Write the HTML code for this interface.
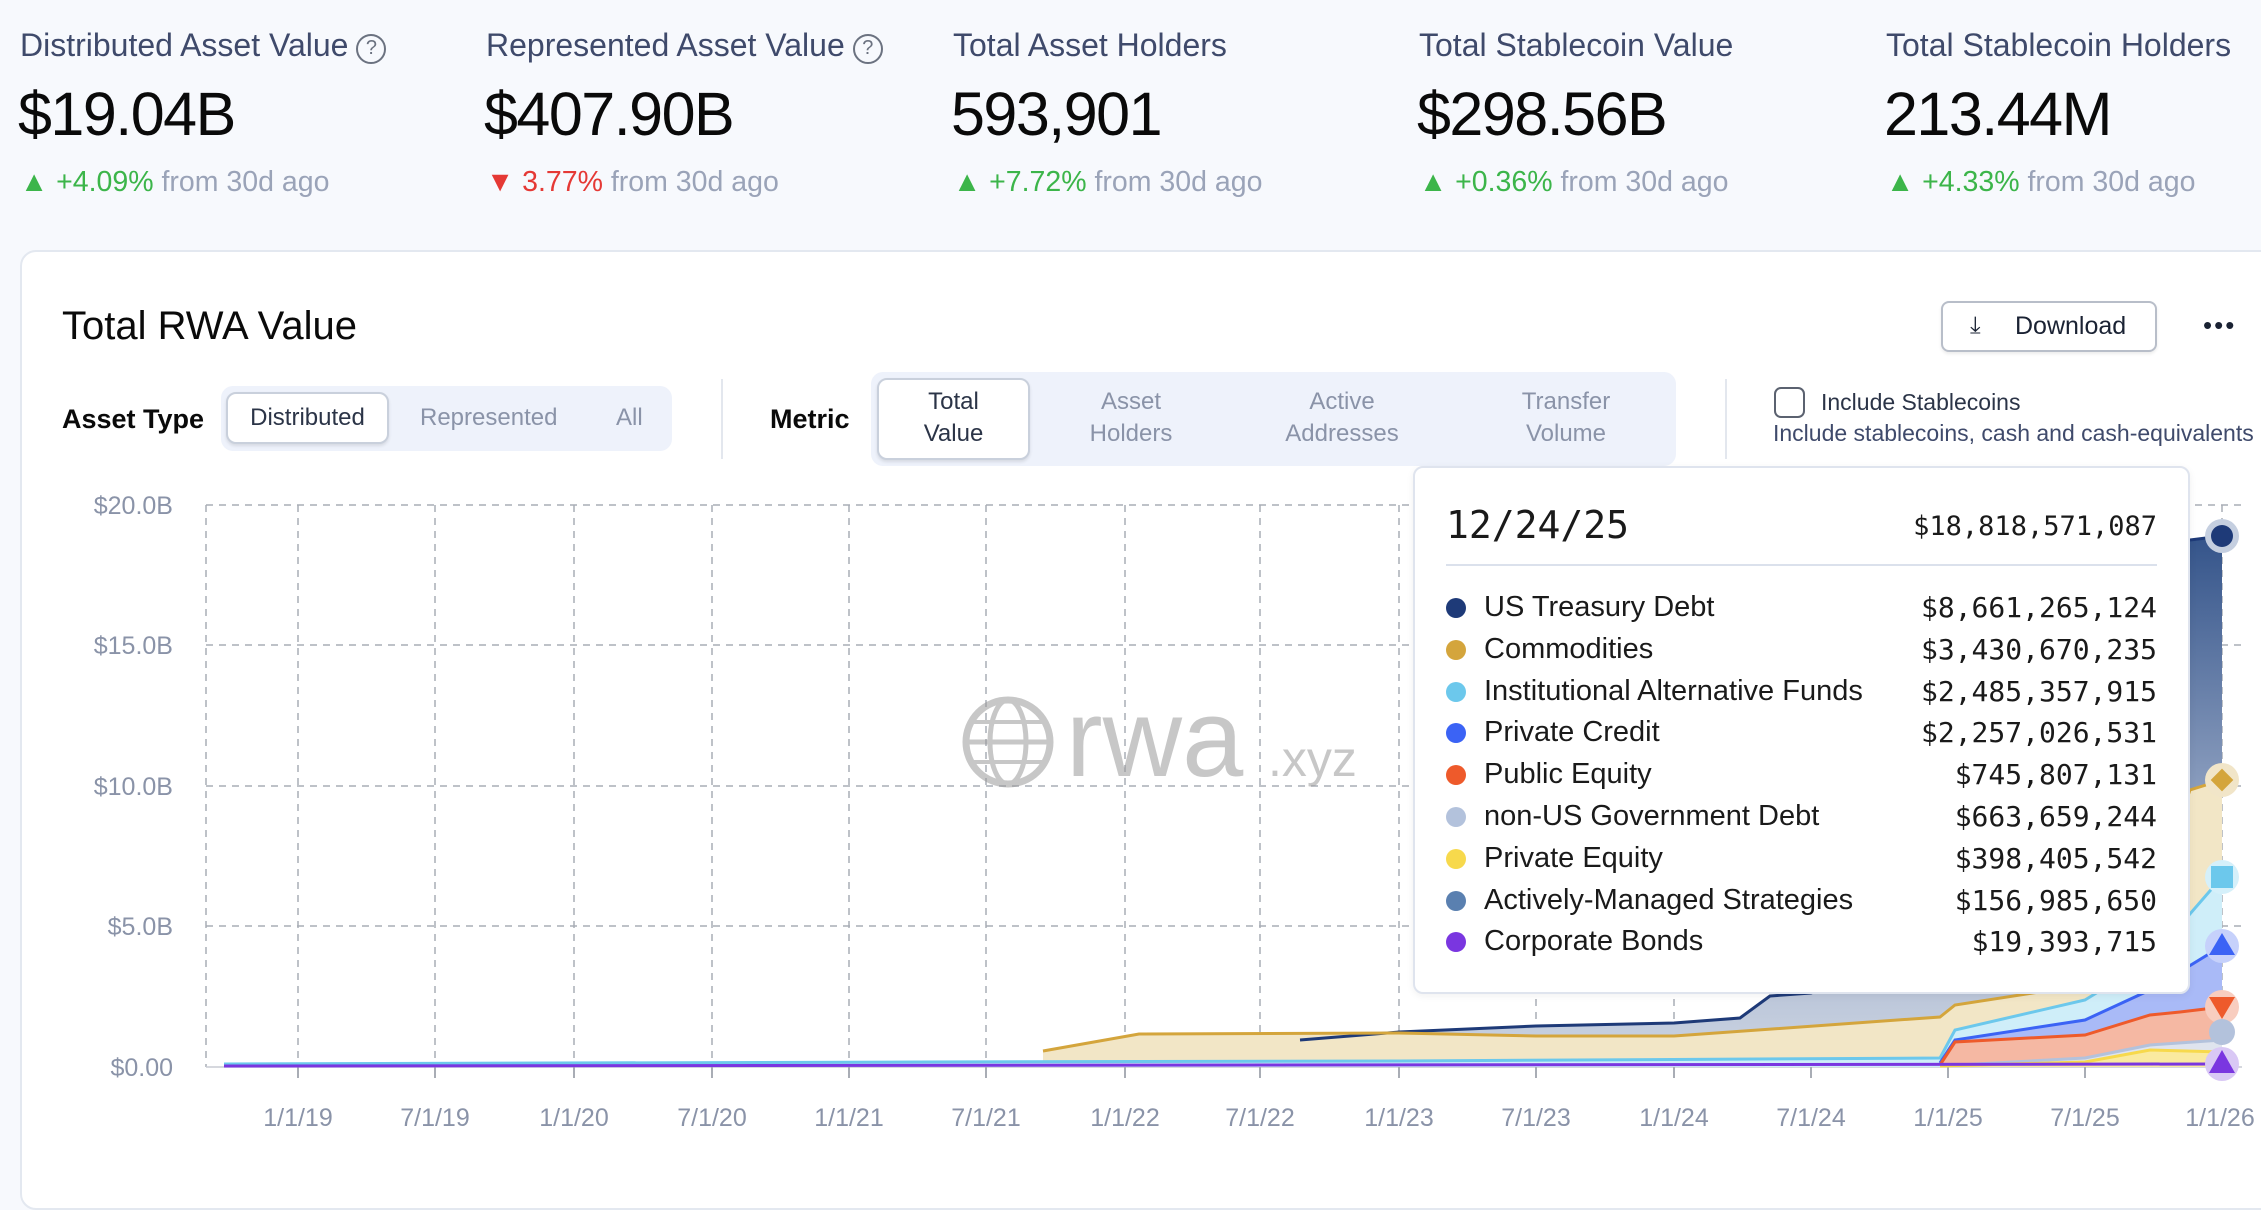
<!DOCTYPE html>
<html><head><meta charset="utf-8"><style>
*{margin:0;padding:0;box-sizing:border-box}
body{width:2261px;height:1165px;overflow:hidden;background:#f7f9fd;font-family:"Liberation Sans",sans-serif;position:relative}
.a{position:absolute;white-space:nowrap}
.lab{font-size:32px;color:#3f4a6b;top:27px}
.val{font-size:61px;color:#0a0a0a;top:79px;letter-spacing:-1.5px}
.chg{font-size:28.5px;color:#9aa3b8;top:166px}
.g{color:#3cb54a}.r{color:#e53935}
.q{display:inline-block;width:30px;height:30px;border:2.5px solid #6b7280;border-radius:50%;font-size:20px;text-align:center;line-height:25px;color:#6b7280;vertical-align:2px;margin-left:8px}
.card{position:absolute;left:20px;top:250px;width:2300px;height:960px;background:#fff;border:2px solid #e3e8f0;border-radius:16px}
.seg{position:absolute;background:#eef2fb;border-radius:12px}
.sel{position:absolute;background:#fff;border:2px solid #c9d0dc;border-radius:10px;box-shadow:0 2px 3px rgba(0,0,0,.1)}
.st{font-size:24px;color:#8a93a8;text-align:center;line-height:32px}
.tt{font-family:"DejaVu Sans Mono","Liberation Mono",monospace}
</style></head><body>
<div class="a lab" style="left:20px">Distributed Asset Value<span class="q">?</span></div>
<div class="a lab" style="left:486px">Represented Asset Value<span class="q">?</span></div>
<div class="a lab" style="left:953px">Total Asset Holders</div>
<div class="a lab" style="left:1419px">Total Stablecoin Value</div>
<div class="a lab" style="left:1886px">Total Stablecoin Holders</div>
<div class="a val" style="left:18px">$19.04B</div>
<div class="a val" style="left:484px">$407.90B</div>
<div class="a val" style="left:951px">593,901</div>
<div class="a val" style="left:1417px">$298.56B</div>
<div class="a val" style="left:1884px">213.44M</div>
<div class="a chg" style="left:20px"><span class="g">▲ +4.09%</span> from 30d ago</div>
<div class="a chg" style="left:486px"><span class="r">▼ 3.77%</span> from 30d ago</div>
<div class="a chg" style="left:953px"><span class="g">▲ +7.72%</span> from 30d ago</div>
<div class="a chg" style="left:1419px"><span class="g">▲ +0.36%</span> from 30d ago</div>
<div class="a chg" style="left:1886px"><span class="g">▲ +4.33%</span> from 30d ago</div>

<div class="card"></div>
<div class="a" style="left:62px;top:304px;font-size:40px;color:#0a0a0a">Total RWA Value</div>
<div class="a" style="left:1941px;top:301px;width:216px;height:51px;border:2px solid #b8bec9;border-radius:8px;background:#fff;box-shadow:0 2px 3px rgba(0,0,0,.08);font-size:25px;color:#1a2233;line-height:47px;padding-left:72px">Download</div>
<div class="a" style="left:1970px;top:312px;font-size:24px;color:#1a2233">⤓</div>
<div class="a" style="left:2203px;top:310px;font-size:26px;color:#1a2233;letter-spacing:2px">•••</div>

<div class="a" style="left:62px;top:404px;font-size:27px;color:#0a0a0a;font-weight:bold">Asset Type</div>
<div class="seg" style="left:221px;top:386px;width:451px;height:65px"></div>
<div class="sel" style="left:226px;top:392px;width:163px;height:52px"></div>
<div class="a" style="left:226px;top:404px;width:163px;text-align:center;font-size:24px;color:#2b3447">Distributed</div>
<div class="a" style="left:420px;top:404px;font-size:24px;color:#8a93a8">Represented</div>
<div class="a" style="left:616px;top:404px;font-size:24px;color:#8a93a8">All</div>
<div class="a" style="left:721px;top:379px;width:2px;height:80px;background:#e3e7ee"></div>
<div class="a" style="left:770px;top:404px;font-size:27px;color:#0a0a0a;font-weight:bold">Metric</div>
<div class="seg" style="left:871px;top:372px;width:805px;height:94px"></div>
<div class="sel" style="left:877px;top:378px;width:153px;height:82px"></div>
<div class="a st" style="left:877px;top:386px;width:153px;color:#2b3447">Total<br>Value</div>
<div class="a st" style="left:1061px;top:386px;width:140px">Asset<br>Holders</div>
<div class="a st" style="left:1262px;top:386px;width:160px">Active<br>Addresses</div>
<div class="a st" style="left:1486px;top:386px;width:160px">Transfer<br>Volume</div>
<div class="a" style="left:1725px;top:379px;width:2px;height:80px;background:#e3e7ee"></div>
<div class="a" style="left:1774px;top:387px;width:31px;height:31px;border:2.5px solid #5b6270;border-radius:7px;background:#fff"></div>
<div class="a" style="left:1821px;top:389px;font-size:23px;color:#2b3447">Include Stablecoins</div>
<div class="a" style="left:1773px;top:420px;font-size:23px;color:#3f4a6b">Include stablecoins, cash and cash-equivalents</div>

<svg class="a" style="left:0;top:0" width="2261" height="1165">
<g font-family="Liberation Sans" font-size="25" fill="#8a93a8" text-anchor="end">
<text x="173" y="514">$20.0B</text><text x="173" y="654">$15.0B</text><text x="173" y="795">$10.0B</text><text x="173" y="935">$5.0B</text><text x="173" y="1076">$0.00</text>
</g>
<g stroke="#a9adb5" stroke-width="1.5" stroke-dasharray="7,6">
<line x1="206" y1="505" x2="2242" y2="505"/><line x1="206" y1="645" x2="2242" y2="645"/><line x1="206" y1="786" x2="2242" y2="786"/><line x1="206" y1="926" x2="2242" y2="926"/>
<line x1="206" y1="505" x2="206" y2="1067"/>
<line x1="298" y1="505" x2="298" y2="1067"/><line x1="435" y1="505" x2="435" y2="1067"/><line x1="574" y1="505" x2="574" y2="1067"/><line x1="712" y1="505" x2="712" y2="1067"/><line x1="849" y1="505" x2="849" y2="1067"/><line x1="986" y1="505" x2="986" y2="1067"/><line x1="1125" y1="505" x2="1125" y2="1067"/><line x1="1260" y1="505" x2="1260" y2="1067"/><line x1="1399" y1="505" x2="1399" y2="1067"/><line x1="1536" y1="505" x2="1536" y2="1067"/><line x1="1674" y1="505" x2="1674" y2="1067"/><line x1="1811" y1="505" x2="1811" y2="1067"/><line x1="1948" y1="505" x2="1948" y2="1067"/><line x1="2085" y1="505" x2="2085" y2="1067"/><line x1="2222" y1="505" x2="2222" y2="1067"/>
</g>
<line x1="206" y1="1067" x2="2242" y2="1067" stroke="#c8ccd4" stroke-width="1.5"/>
<g stroke="#a9adb5" stroke-width="2">
<line x1="298" y1="1067" x2="298" y2="1078"/><line x1="435" y1="1067" x2="435" y2="1078"/><line x1="574" y1="1067" x2="574" y2="1078"/><line x1="712" y1="1067" x2="712" y2="1078"/><line x1="849" y1="1067" x2="849" y2="1078"/><line x1="986" y1="1067" x2="986" y2="1078"/><line x1="1125" y1="1067" x2="1125" y2="1078"/><line x1="1260" y1="1067" x2="1260" y2="1078"/><line x1="1399" y1="1067" x2="1399" y2="1078"/><line x1="1536" y1="1067" x2="1536" y2="1078"/><line x1="1674" y1="1067" x2="1674" y2="1078"/><line x1="1811" y1="1067" x2="1811" y2="1078"/><line x1="1948" y1="1067" x2="1948" y2="1078"/><line x1="2085" y1="1067" x2="2085" y2="1078"/><line x1="2222" y1="1067" x2="2222" y2="1078"/>
</g>
<g font-family="Liberation Sans" font-size="25" fill="#8a93a8" text-anchor="middle">
<text x="298" y="1126">1/1/19</text><text x="435" y="1126">7/1/19</text><text x="574" y="1126">1/1/20</text><text x="712" y="1126">7/1/20</text><text x="849" y="1126">1/1/21</text><text x="986" y="1126">7/1/21</text><text x="1125" y="1126">1/1/22</text><text x="1260" y="1126">7/1/22</text><text x="1399" y="1126">1/1/23</text><text x="1536" y="1126">7/1/23</text><text x="1674" y="1126">1/1/24</text><text x="1811" y="1126">7/1/24</text><text x="1948" y="1126">1/1/25</text><text x="2085" y="1126">7/1/25</text><text x="2220" y="1126">1/1/26</text>
</g>
<!-- watermark -->
<g opacity="0.55">
<circle cx="1008" cy="742" r="42" fill="none" stroke="#9a9a9a" stroke-width="7"/>
<ellipse cx="1008" cy="742" rx="18" ry="42" fill="none" stroke="#9a9a9a" stroke-width="5"/>
<line x1="966" y1="742" x2="1050" y2="742" stroke="#9a9a9a" stroke-width="5"/>
<line x1="972" y1="722" x2="1044" y2="722" stroke="#9a9a9a" stroke-width="4"/>
<line x1="972" y1="762" x2="1044" y2="762" stroke="#9a9a9a" stroke-width="4"/>
<text x="1066" y="776" font-family="Liberation Sans" font-size="110" fill="#9a9a9a">rwa</text>
<text x="1268" y="776" font-family="Liberation Sans" font-size="50" fill="#9a9a9a">.xyz</text>
</g>
<!-- areas -->
<defs><linearGradient id="nv" x1="0" y1="0" x2="0" y2="1"><stop offset="0" stop-color="#34548a"/><stop offset="0.5" stop-color="#8ea0c0"/><stop offset="1" stop-color="#cdd5e3"/></linearGradient></defs>
<polygon fill="url(#nv)" points="1300,1040 1399,1032 1536,1026 1674,1023 1740,1018 1770,996 1811,993 1900,960 2190,540 2222,536 2222,1067 1300,1067"/>
<polygon fill="#f2e6c6" points="1043,1051 1139,1034 1399,1033 1536,1036 1674,1036 1940,1017 1955,1005 2085,985 2150,900 2190,790 2222,780 2222,1067 1043,1067"/>
<polygon fill="#cfeef9" points="224,1064 917,1062 1399,1061 1940,1058 1955,1030 2085,1000 2150,960 2222,877 2222,1067 224,1067"/>
<polygon fill="#a9baf7" points="1940,1063 1955,1040 2085,1020 2150,990 2222,946 2222,1067 1940,1067"/>
<polygon fill="#f5b8a3" points="1940,1065 1955,1042 2085,1035 2150,1015 2180,1012 2222,1007 2222,1067 1940,1067"/>
<polygon fill="#dfe4ee" points="1940,1066 2085,1058 2150,1045 2222,1040 2222,1067 1940,1067"/>
<polygon fill="#faeaa0" points="1940,1066 2085,1062 2150,1050 2222,1052 2222,1067 1940,1067"/>
<g fill="none" stroke-width="3">
<polyline stroke="#1e3a78" points="1300,1040 1399,1032 1536,1026 1674,1023 1740,1018 1770,996 1811,993 1900,960"/>
<polyline stroke="#1e3a78" points="2190,540 2222,536"/>
<polyline stroke="#d4a53c" points="1043,1051 1139,1034 1399,1033 1536,1036 1674,1036 1940,1017 1955,1005 2085,985 2150,900 2190,790 2222,780"/>
<polyline stroke="#6cc8ec" points="224,1064 917,1062 1399,1061 1940,1058 1955,1030 2085,1000 2150,960 2222,877"/>
<polyline stroke="#3b63f5" points="1940,1063 1955,1040 2085,1020 2150,990 2222,946"/>
<polyline stroke="#ee5a2b" points="1940,1065 1955,1042 2085,1035 2150,1015 2180,1012 2222,1007"/>
<polyline stroke="#b3c2dc" points="1940,1066 2085,1058 2150,1045 2222,1040"/>
<polyline stroke="#f7d94c" points="1940,1066 2085,1062 2150,1050 2222,1052"/>
<polyline stroke="#7a36e0" points="224,1066 2222,1064"/>
</g>
<!-- markers -->
<circle cx="2222" cy="536" r="17" fill="#c5cfe0"/><circle cx="2222" cy="536" r="11" fill="#1e3a78"/>
<circle cx="2222" cy="780" r="17" fill="#f1e5c8"/><rect x="2214" y="772" width="16" height="16" fill="#d4a53c" transform="rotate(45 2222 780)"/>
<circle cx="2222" cy="877" r="17" fill="#d5f0fa"/><rect x="2211" y="866" width="22" height="22" fill="#6cc8ec"/>
<circle cx="2222" cy="946" r="17" fill="#c6d1fb"/><polygon points="2222,933 2235,955 2209,955" fill="#3b63f5"/>
<circle cx="2222" cy="1007" r="17" fill="#f8cdbf"/><polygon points="2209,997 2235,997 2222,1019" fill="#ee5a2b"/>
<circle cx="2222" cy="1032" r="13" fill="#b3c2dc"/>
<circle cx="2222" cy="1064" r="17" fill="#d9c8f5"/><polygon points="2222,1050 2235,1073 2209,1073" fill="#7a36e0"/>
</svg>

<!-- tooltip -->
<div class="a" style="left:1413px;top:466px;width:777px;height:528px;background:#fff;border:2px solid #dfe4ee;border-radius:10px;box-shadow:0 2px 8px rgba(0,0,0,.06)"></div>
<div class="a tt" style="left:1446px;top:503px;font-size:38px;color:#1a1a1a">12/24/25</div>
<div class="a tt" style="left:1800px;width:357px;text-align:right;top:511px;font-size:27px;color:#1a1a1a">$18,818,571,087</div>
<div class="a" style="left:1446px;top:564px;width:711px;height:2px;background:#dbe1ec"></div>
<div class="a" style="left:1446px;top:587px;width:711px;font-size:29px;color:#1a1a1a;line-height:41.8px">
<div style="position:relative"><span style="display:inline-block;width:20px;height:20px;border-radius:50%;background:#1e3a78;vertical-align:-2px;margin-right:18px"></span>US Treasury Debt<span class="tt" style="position:absolute;right:0;font-size:28px">$8,661,265,124</span></div>
<div style="position:relative"><span style="display:inline-block;width:20px;height:20px;border-radius:50%;background:#d4a53c;vertical-align:-2px;margin-right:18px"></span>Commodities<span class="tt" style="position:absolute;right:0;font-size:28px">$3,430,670,235</span></div>
<div style="position:relative"><span style="display:inline-block;width:20px;height:20px;border-radius:50%;background:#6cc8ec;vertical-align:-2px;margin-right:18px"></span>Institutional Alternative Funds<span class="tt" style="position:absolute;right:0;font-size:28px">$2,485,357,915</span></div>
<div style="position:relative"><span style="display:inline-block;width:20px;height:20px;border-radius:50%;background:#3b63f5;vertical-align:-2px;margin-right:18px"></span>Private Credit<span class="tt" style="position:absolute;right:0;font-size:28px">$2,257,026,531</span></div>
<div style="position:relative"><span style="display:inline-block;width:20px;height:20px;border-radius:50%;background:#ee5a2b;vertical-align:-2px;margin-right:18px"></span>Public Equity<span class="tt" style="position:absolute;right:0;font-size:28px">$745,807,131</span></div>
<div style="position:relative"><span style="display:inline-block;width:20px;height:20px;border-radius:50%;background:#b3c2dc;vertical-align:-2px;margin-right:18px"></span>non-US Government Debt<span class="tt" style="position:absolute;right:0;font-size:28px">$663,659,244</span></div>
<div style="position:relative"><span style="display:inline-block;width:20px;height:20px;border-radius:50%;background:#f7d94c;vertical-align:-2px;margin-right:18px"></span>Private Equity<span class="tt" style="position:absolute;right:0;font-size:28px">$398,405,542</span></div>
<div style="position:relative"><span style="display:inline-block;width:20px;height:20px;border-radius:50%;background:#5a80b0;vertical-align:-2px;margin-right:18px"></span>Actively-Managed Strategies<span class="tt" style="position:absolute;right:0;font-size:28px">$156,985,650</span></div>
<div style="position:relative"><span style="display:inline-block;width:20px;height:20px;border-radius:50%;background:#7a36e0;vertical-align:-2px;margin-right:18px"></span>Corporate Bonds<span class="tt" style="position:absolute;right:0;font-size:28px">$19,393,715</span></div>
</div>
</body></html>
